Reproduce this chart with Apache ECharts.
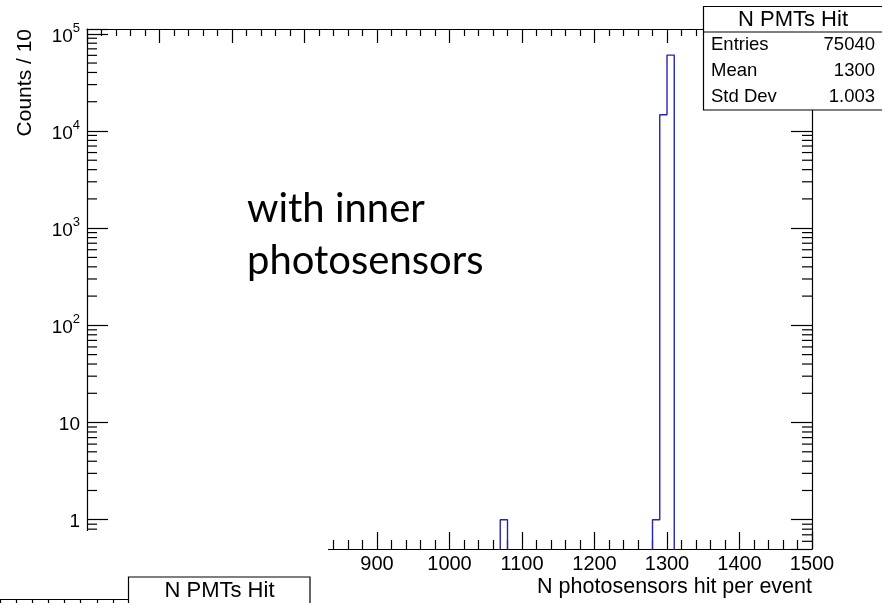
<!DOCTYPE html>
<html>
<head>
<meta charset="utf-8">
<script src="https://cdn.jsdelivr.net/npm/echarts@6/dist/echarts.min.js"></script>
<style>
html,body{margin:0;padding:0;background:#fff;}
#chart{width:882px;height:603px;}
</style>
</head>
<body>
<div id="chart"></div>
<script>
// ---- data ----
const xMin = 500, xMax = 1500, binWidth = 10;
const yMin = 0.5, yMax = 1.12e5;
const filledBinLow = [1070, 1280, 1290, 1300];
const filledBinCounts = [1, 1, 14700, 60338];
const statsTitle = 'N PMTs Hit';
const statsLabels = ['Entries', 'Mean', 'Std Dev'];
const statsValues = ['75040', '1300', '1.003'];
const xTitle = 'N photosensors hit per event';
const yTitle = 'Counts / 10';
const annotation = ['with inner', 'photosensors'];

// ---- build histogram outline from data ----
const nBins = Math.round((xMax - xMin) / binWidth);
const counts = new Array(nBins).fill(0);
filledBinLow.forEach((lo, i) => { counts[Math.round((lo - xMin) / binWidth)] = filledBinCounts[i]; });
const floorVal = yMin / 10;
const stepData = [];
for (let i = 0; i < nBins; i++) stepData.push([xMin + i * binWidth, counts[i] > 0 ? counts[i] : floorVal]);
stepData.push([xMax, counts[nBins - 1] > 0 ? counts[nBins - 1] : floorVal]);

// minor ticks for log axis (2..9 per decade)
const minorY = [];
for (let d = 0.1; d < yMax; d *= 10) {
  for (let k = 2; k <= 9; k++) {
    const v = +(d * k).toPrecision(6);
    if (v > yMin && v < yMax) minorY.push([v]);
  }
}

const FONT = "'Liberation Sans', Arial, Helvetica, sans-serif";
const chart = echarts.init(document.getElementById('chart'), null, {renderer: 'canvas'});

function decadeLabel(v) {
  const e = Math.log10(v);
  if (Math.abs(e - Math.round(e)) > 1e-6) return '';
  const n = Math.round(e);
  if (n === 0) return '{b|1}';
  if (n === 1) return '{b|10}';
  return '{b|10}{s|' + n + '}';
}

const axisLineStyle = {color: '#000', width: 1.2};
const Z = 100;

chart.setOption({
  animation: false,
  backgroundColor: '#fff',
  grid: [
    {left: 87, top: 29, right: 70, bottom: 54},
    {left: -15, top: 599.5, width: 144, height: 40}
  ],
  xAxis: [
    {
      type: 'value', gridIndex: 0, min: xMin, max: xMax, interval: 100, position: 'bottom',
      axisLine: {show: true, onZero: false, lineStyle: axisLineStyle},
      axisTick: {show: true, inside: true, length: 17, lineStyle: {color: '#000', width: 1.2}},
      minorTick: {show: true, splitNumber: 5, length: 9, lineStyle: {color: '#000', width: 1.2}},
      splitLine: {show: false},
      axisLabel: {show: true, margin: 5, color: '#000', fontSize: 20, fontFamily: FONT, formatter: v => String(v)},
      name: xTitle, nameLocation: 'end', nameGap: 0,
      nameTextStyle: {color: '#000', fontSize: 21.5, fontFamily: FONT, align: 'right', verticalAlign: 'top', padding: [27, 0, 0, 0]}
    },
    {
      type: 'value', gridIndex: 0, min: xMin, max: xMax, interval: 100, position: 'top',
      axisLine: {show: true, onZero: false, lineStyle: axisLineStyle},
      axisTick: {show: true, inside: true, length: 14, lineStyle: {color: '#000', width: 1.2}},
      minorTick: {show: true, splitNumber: 5, length: 7, lineStyle: {color: '#000', width: 1.2}},
      splitLine: {show: false},
      axisLabel: {show: false}
    },
    {
      type: 'value', gridIndex: 1, min: 0, max: 8, interval: 1, position: 'top',
      axisLine: {show: true, onZero: false, lineStyle: axisLineStyle},
      axisTick: {show: true, inside: true, length: 6, lineStyle: {color: '#000', width: 1.2}},
      splitLine: {show: false},
      axisLabel: {show: false}
    }
  ],
  yAxis: [
    {
      type: 'log', logBase: 10, gridIndex: 0, min: yMin, max: yMax, position: 'left', splitNumber: 5,
      axisLine: {show: true, lineStyle: axisLineStyle},
      axisTick: {show: true, inside: true, length: 21, lineStyle: {color: '#000', width: 1.2}},
      splitLine: {show: false},
      axisLabel: {
        show: true, margin: 7, color: '#000', fontFamily: FONT,
        formatter: decadeLabel,
        rich: {
          b: {fontSize: 19, fontFamily: FONT, color: '#000', verticalAlign: 'bottom', lineHeight: 24},
          s: {fontSize: 13, fontFamily: FONT, color: '#000', verticalAlign: 'top', lineHeight: 24}
        }
      }
    },
    {
      type: 'log', logBase: 10, gridIndex: 0, min: yMin, max: yMax, position: 'right', splitNumber: 5,
      axisLine: {show: true, lineStyle: axisLineStyle},
      axisTick: {show: true, inside: true, length: 21, lineStyle: {color: '#000', width: 1.2}},
      splitLine: {show: false},
      axisLabel: {show: false}
    },
    {
      type: 'value', gridIndex: 1, min: 0, max: 1, show: false
    }
  ],
  series: [
    {
      type: 'line', xAxisIndex: 0, yAxisIndex: 0, data: stepData, step: 'end',
      showSymbol: false, symbol: 'none', clip: true,
      lineStyle: {color: '#2424b4', width: 1.4}, z: 3
    },
    {
      type: 'custom', xAxisIndex: 0, yAxisIndex: 0, data: minorY, z: 4, silent: true,
      renderItem: function (params, api) {
        const v = api.value(0);
        const pl = api.coord([xMin, v]);
        const pr = api.coord([xMax, v]);
        return {
          type: 'group',
          children: [
            {type: 'line', shape: {x1: pl[0], y1: pl[1], x2: pl[0] + 10, y2: pl[1]}, style: {stroke: '#000', lineWidth: 1.2}},
            {type: 'line', shape: {x1: pr[0], y1: pr[1], x2: pr[0] - 10, y2: pr[1]}, style: {stroke: '#000', lineWidth: 1.2}}
          ]
        };
      }
    }
  ],
  graphic: [
    // y-axis title
    {
      type: 'text', x: 25, y: 29, rotation: Math.PI / 2, z: 50,
      style: {text: yTitle, fill: '#000', font: '21px ' + FONT, textAlign: 'right', textVerticalAlign: 'middle'}
    },
    // annotation text
    {
      type: 'text', x: 247, y: 183, z: 50,
      style: {text: annotation.join('\n'), fill: '#000', font: '40px Lato, "Open Sans", sans-serif', lineHeight: 52, textAlign: 'left', textVerticalAlign: 'top'}
    },
    // stats box
    {type: 'rect', z: Z, shape: {x: 703.5, y: 6.5, width: 180, height: 103.5}, style: {fill: '#fff', stroke: '#000', lineWidth: 1.2}},
    {type: 'line', z: Z + 1, shape: {x1: 703.5, y1: 32, x2: 883.5, y2: 32}, style: {stroke: '#000', lineWidth: 1.2}},
    {type: 'text', z: Z + 1, x: 793, y: 19.5, style: {text: statsTitle, fill: '#000', font: '22px ' + FONT, textAlign: 'center', textVerticalAlign: 'middle'}},
    {type: 'text', z: Z + 1, x: 711, y: 45, style: {text: statsLabels[0], fill: '#000', font: '18.5px ' + FONT, textAlign: 'left', textVerticalAlign: 'middle'}},
    {type: 'text', z: Z + 1, x: 711, y: 71, style: {text: statsLabels[1], fill: '#000', font: '18.5px ' + FONT, textAlign: 'left', textVerticalAlign: 'middle'}},
    {type: 'text', z: Z + 1, x: 711, y: 97, style: {text: statsLabels[2], fill: '#000', font: '18.5px ' + FONT, textAlign: 'left', textVerticalAlign: 'middle'}},
    {type: 'text', z: Z + 1, x: 875, y: 45, style: {text: statsValues[0], fill: '#000', font: '18.5px ' + FONT, textAlign: 'right', textVerticalAlign: 'middle'}},
    {type: 'text', z: Z + 1, x: 875, y: 71, style: {text: statsValues[1], fill: '#000', font: '18.5px ' + FONT, textAlign: 'right', textVerticalAlign: 'middle'}},
    {type: 'text', z: Z + 1, x: 875, y: 97, style: {text: statsValues[2], fill: '#000', font: '18.5px ' + FONT, textAlign: 'right', textVerticalAlign: 'middle'}},
    // white patch from the pasted lower panel
    {type: 'rect', z: 90, shape: {x: 0, y: 531, width: 328, height: 67}, style: {fill: '#fff'}},
    // lower panel stats box fragment
    {type: 'rect', z: Z, shape: {x: 128.5, y: 577, width: 181.5, height: 40}, style: {fill: '#fff', stroke: '#000', lineWidth: 1.2}},
    {type: 'text', z: Z + 1, x: 219.5, y: 590.5, style: {text: statsTitle, fill: '#000', font: '22px ' + FONT, textAlign: 'center', textVerticalAlign: 'middle'}}
  ]
});
</script>
</body>
</html>
